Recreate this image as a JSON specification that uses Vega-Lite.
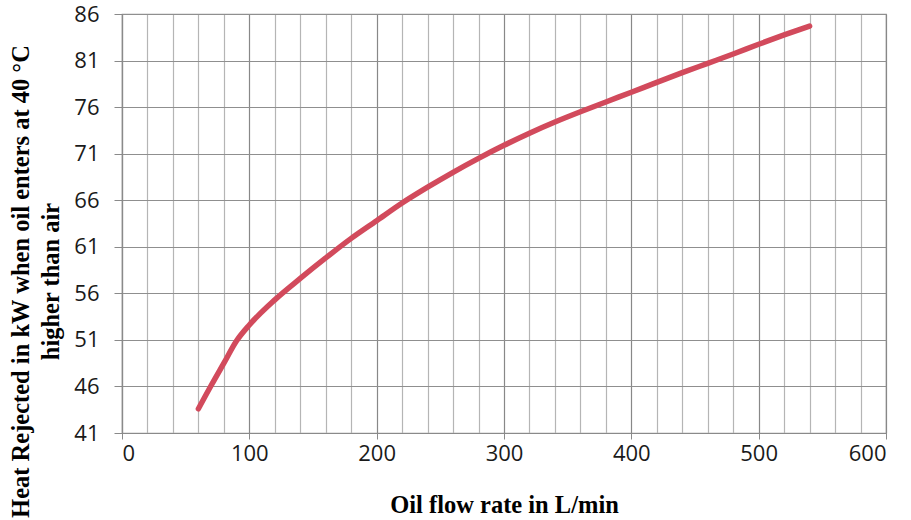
{
  "$schema": "https://vega.github.io/schema/vega-lite/v6.json",
  "width": 764,
  "height": 419,
  "autosize": {"type": "none"},
  "padding": {"left": 122, "top": 14, "right": 25, "bottom": 87},
  "background": "white",
  "config": {"view": {"stroke": "#999999", "strokeWidth": 1.2}},
  "data": {
    "values": [
      {"flow": 60, "heat": 43.6},
      {"flow": 70, "heat": 46.1},
      {"flow": 80, "heat": 48.5},
      {"flow": 90, "heat": 50.9},
      {"flow": 100, "heat": 52.6},
      {"flow": 120, "heat": 55.3},
      {"flow": 140, "heat": 57.6},
      {"flow": 160, "heat": 59.8},
      {"flow": 180, "heat": 61.9},
      {"flow": 200, "heat": 63.8},
      {"flow": 220, "heat": 65.7},
      {"flow": 240, "heat": 67.4},
      {"flow": 260, "heat": 69.0},
      {"flow": 280, "heat": 70.5},
      {"flow": 300, "heat": 71.9},
      {"flow": 320, "heat": 73.2},
      {"flow": 340, "heat": 74.4},
      {"flow": 360, "heat": 75.5},
      {"flow": 380, "heat": 76.55},
      {"flow": 400, "heat": 77.6},
      {"flow": 420, "heat": 78.65},
      {"flow": 440, "heat": 79.7},
      {"flow": 460, "heat": 80.7},
      {"flow": 480, "heat": 81.7},
      {"flow": 500, "heat": 82.75},
      {"flow": 520, "heat": 83.75},
      {"flow": 540, "heat": 84.7}
    ]
  },
  "mark": {"type": "line", "color": "#d24a5c", "strokeWidth": 5.5, "interpolate": "monotone", "strokeCap": "round", "clip": true},
  "encoding": {
    "x": {
      "field": "flow",
      "type": "quantitative",
      "scale": {"domain": [0, 600], "nice": false, "zero": false},
      "axis": {
        "title": "Oil flow rate in L/min",
        "titleFont": "Liberation Serif",
        "titleFontWeight": "bold",
        "titleFontSize": 24.5,
        "titleColor": "#000000",
        "titleBaseline": "alphabetic",
        "titleY": 79,
        "values": [0, 20, 40, 60, 80, 100, 120, 140, 160, 180, 200, 220, 240, 260, 280, 300, 320, 340, 360, 380, 400, 420, 440, 460, 480, 500, 520, 540, 560, 580, 600],
        "labelExpr": "datum.value % 100 === 0 ? datum.label : ''",
        "labelOverlap": false,
        "labelFont": "Open Sans",
        "labelFontSize": 22,
        "labelColor": "#1a1a1a",
        "labelPadding": 4,
        "grid": true,
        "gridColor": {"condition": {"test": "datum.value % 100 === 0", "value": "#888888"}, "value": "#b5b5b5"},
        "gridWidth": 1.2,
        "gridOpacity": 1,
        "tickOpacity": {"condition": {"test": "datum.value % 100 === 0", "value": 1}, "value": 0},
        "tickColor": "#8a8a8a",
        "tickSize": 6,
        "domainColor": "#8a8a8a",
        "domainWidth": 1.2
      }
    },
    "y": {
      "field": "heat",
      "type": "quantitative",
      "scale": {"domain": [41, 86], "nice": false, "zero": false},
      "axis": {
        "title": ["Heat Rejected in kW when oil enters at 40 °C", "higher than air"],
        "titleFont": "Liberation Serif",
        "titleFontWeight": "bold",
        "titleFontSize": 24.5,
        "titleLineHeight": 30,
        "titleColor": "#000000",
        "titleAngle": -90,
        "titleAlign": "center",
        "titleBaseline": "alphabetic",
        "titleX": -94,
        "titleY": 267,
        "values": [41, 46, 51, 56, 61, 66, 71, 76, 81, 86],
        "labelFont": "Open Sans",
        "labelFontSize": 22,
        "labelColor": "#1a1a1a",
        "labelPadding": 15,
        "grid": true,
        "gridColor": "#8f8f8f",
        "gridWidth": 1.2,
        "gridOpacity": 1,
        "tickColor": "#8a8a8a",
        "tickSize": 8,
        "domainColor": "#8a8a8a",
        "domainWidth": 1.2
      }
    }
  }
}
